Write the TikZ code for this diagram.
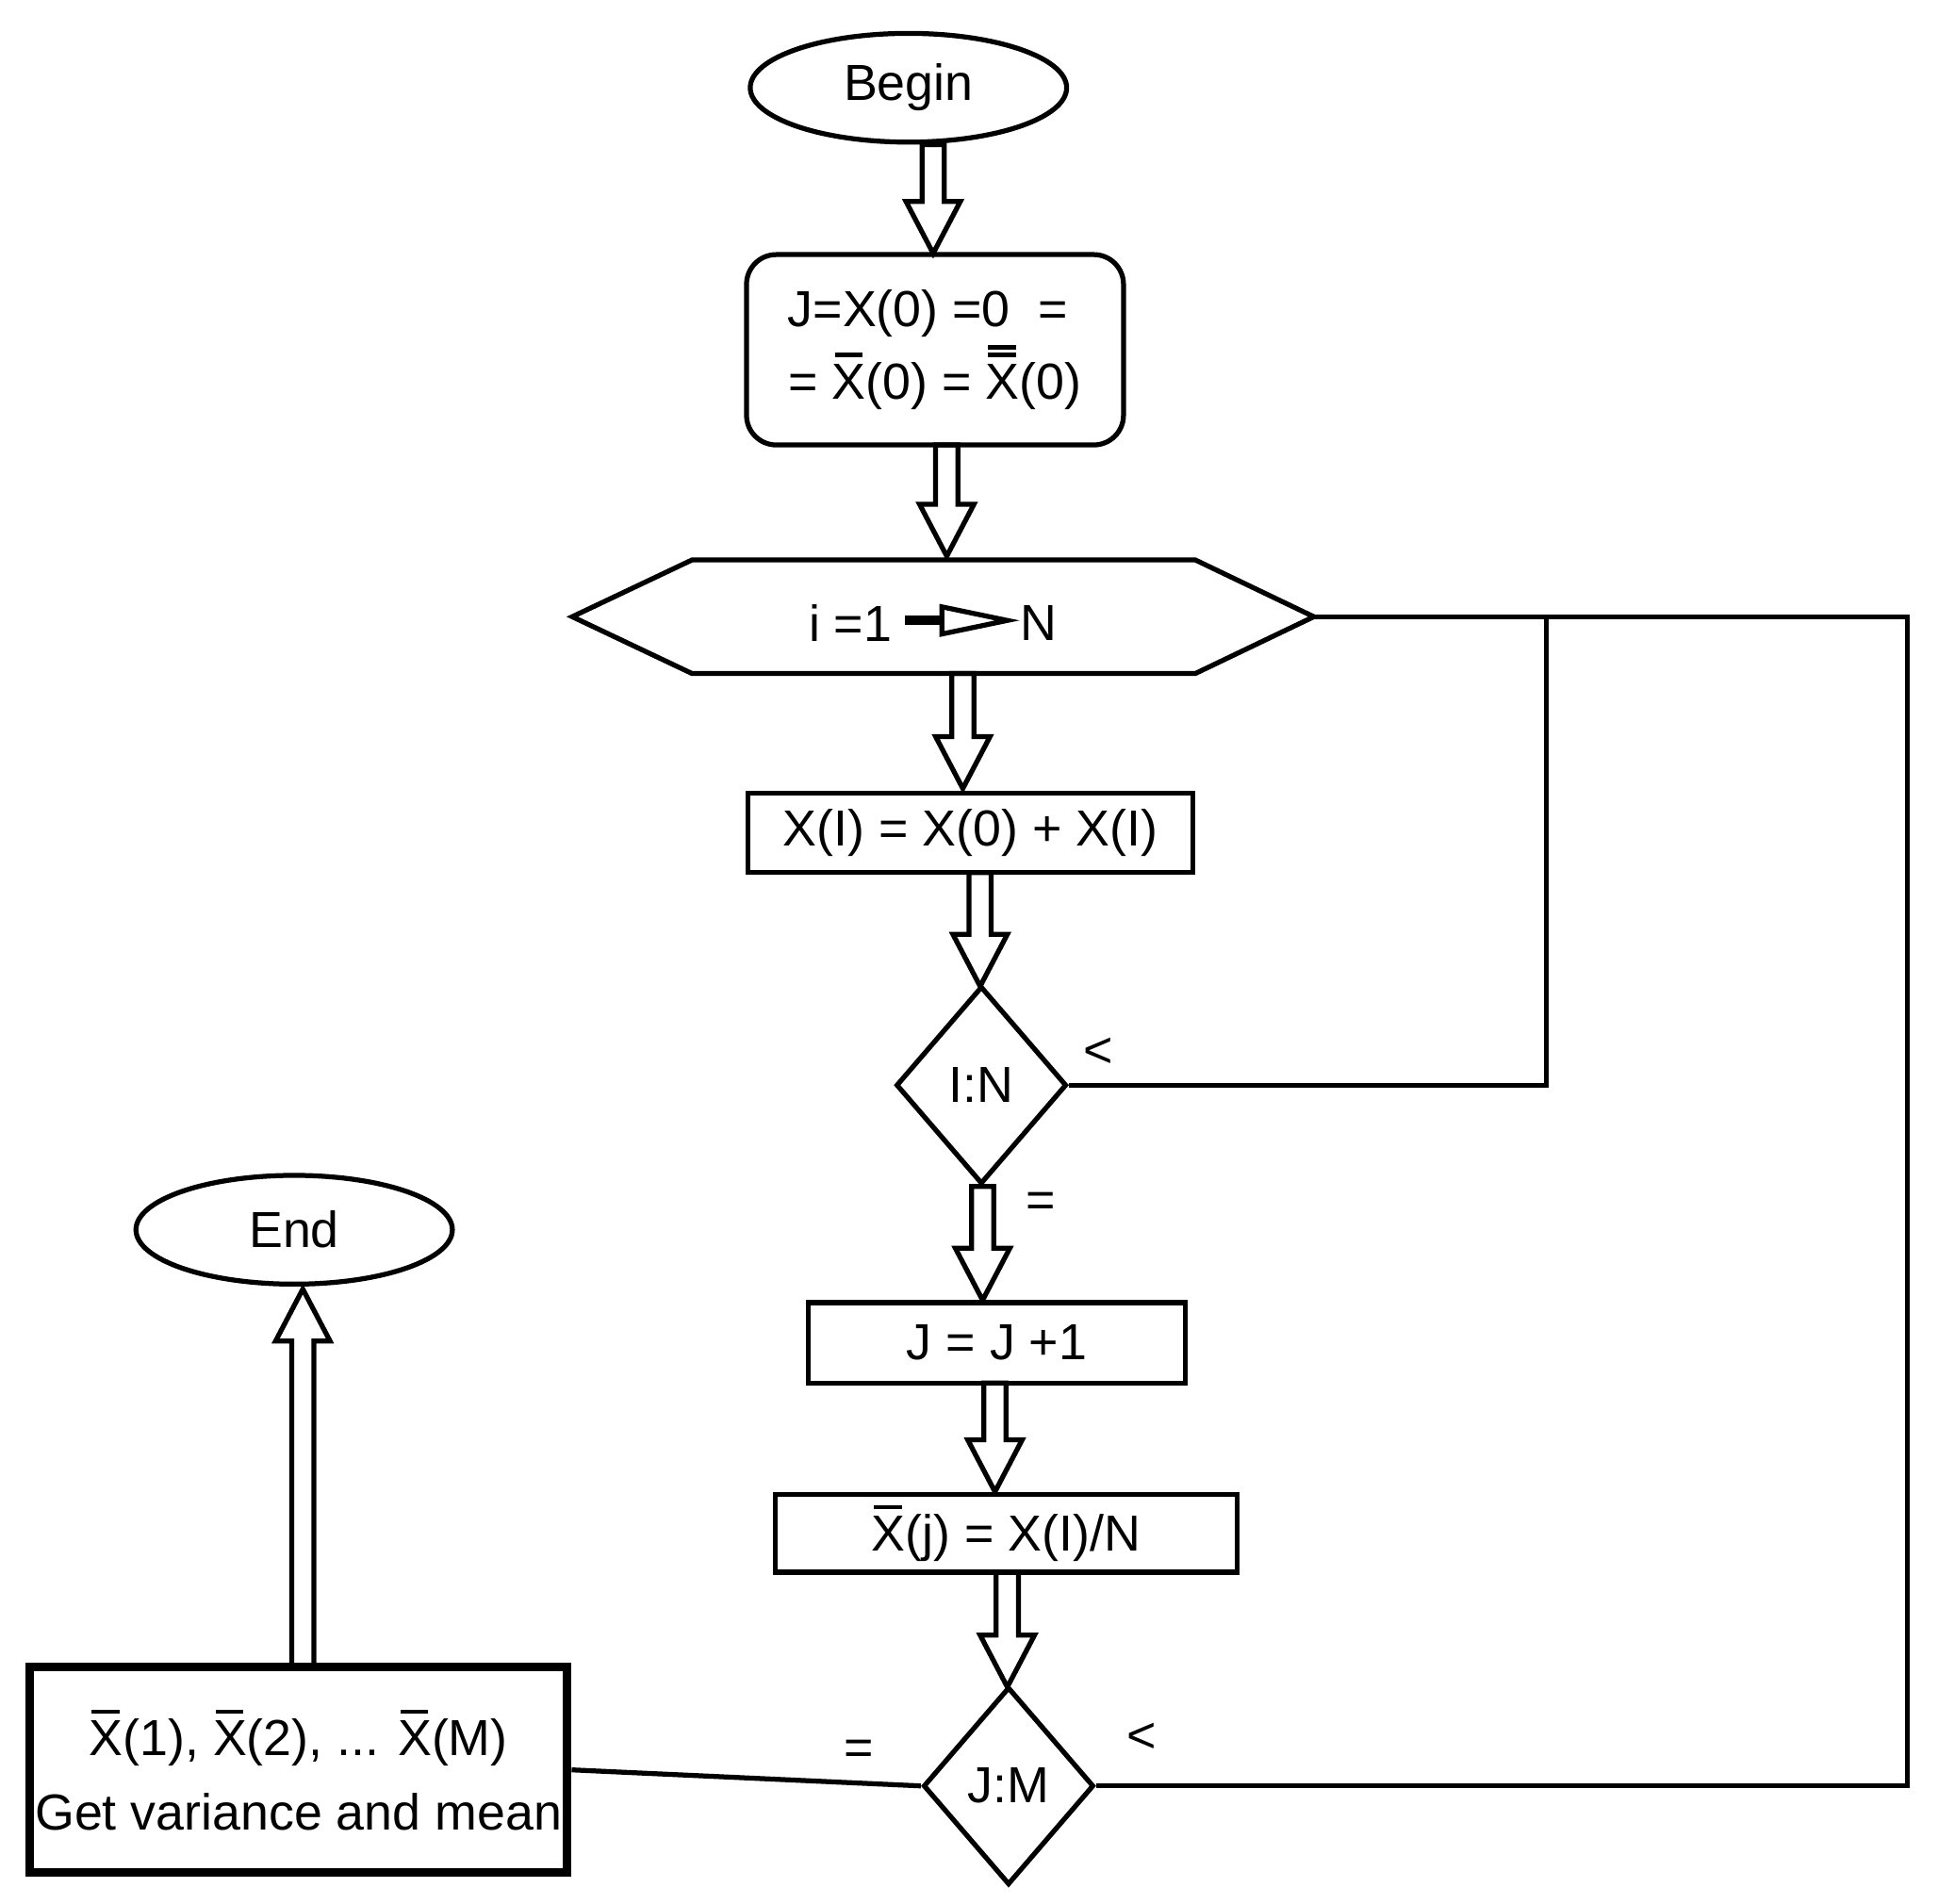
\documentclass[tikz,border=0pt]{standalone}
\usepackage{fontspec}
\setmainfont{Liberation Sans}
\usetikzlibrary{shapes.geometric}
\newcommand{\xb}{\leavevmode\rlap{\hspace{0.05em}\raisebox{0.82em}{\rule{0.55em}{0.09em}}}X}
\newcommand{\xbb}{\leavevmode\rlap{\hspace{0.05em}\raisebox{0.82em}{\rule{0.55em}{0.09em}}}\rlap{\hspace{0.05em}\raisebox{0.97em}{\rule{0.55em}{0.09em}}}X}
\newcommand{\blockdown}[3]{\draw[blk] (#1-9,#2)--(#1-9,#3-42)--(#1-22,#3-42)--(#1,#3)--(#1+22,#3-42)--(#1+9,#3-42)--(#1+9,#2)--cycle;}
\newcommand{\blockup}[3]{\draw[blk] (#1-9,#2)--(#1-9,#3+42)--(#1-22,#3+42)--(#1,#3)--(#1+22,#3+42)--(#1+9,#3+42)--(#1+9,#2)--cycle;}
\begin{document}
\begin{tikzpicture}[x=0.5pt,y=-0.5pt,
  every node/.style={font=\fontsize{20.5}{26}\selectfont},
  ln/.style={line width=2pt},
  blk/.style={line width=2pt,line join=miter},
  box/.style={draw,line width=2pt,rectangle,inner sep=0pt},
  lbl/.style={inner sep=0pt}]
\useasboundingbox (0,0) rectangle (1568,1540);
% Begin
\node[draw,ln,ellipse,minimum width=128pt,minimum height=44pt,inner sep=0pt] (begin) at (735,71) {Begin};
\blockdown{755}{117}{205}
\node[box,rounded corners=12pt,minimum width=152.5pt,minimum height=77pt,align=center] (init) at (756.5,283) {J=X(0) =0 \ =\ \ \\[3pt] = \xb(0) = \xbb(0)};
\blockdown{766}{360}{450}
% hexagon
\draw[ln] (463,499)--(560,453)--(967,453)--(1063,499)--(967,545)--(560,545)--cycle;
\coordinate (hexR) at (1063,499);
\node[lbl] (i1) at (688,504) {i =1};
\node[lbl] (nN) at (840,504) {N};
\draw[line width=4pt] (732,502)--(762,502);
\draw[ln] (762,491)--(815,502)--(762,513)--cycle;
\blockdown{779}{545}{638}
\node[box,minimum width=180pt,minimum height=32pt] (xi) at (785,674) {X(I) = X(0) + X(I)};
\blockdown{793}{706}{798}
\node[draw,ln,diamond,minimum width=69pt,minimum height=80pt,inner sep=0pt] (d1) at (794,878) {I:N};
\node[lbl] at (889,852) {\textless};
\coordinate (c1) at (1251,878);
\coordinate (c2) at (1251,499);
\draw[ln] (d1.east)--(c1)--(c2);
\blockdown{795}{960}{1052}
\node[lbl] at (842,975) {=};
\node[box,minimum width=152.5pt,minimum height=32.5pt] (jj) at (806.5,1086.5) {J = J +1};
\blockdown{805}{1119}{1207}
\node[box,minimum width=187pt,minimum height=31.5pt] (xj) at (814,1240.5) {\xb(j) = X(I)/N};
\blockdown{815}{1272}{1365}
\node[draw,ln,diamond,minimum width=69pt,minimum height=80pt,inner sep=0pt] (d2) at (816,1445) {J:M};
\node[lbl] at (924,1406) {\textless};
\coordinate (c3) at (1543,1445);
\coordinate (c4) at (1543,499);
\draw[ln] (d2.east)--(c3)--(c4)--(hexR);
\node[lbl] at (695,1418) {=};
\node[draw,line width=3.5pt,rectangle,minimum width=217.5pt,minimum height=83pt,align=center,inner sep=0pt] (res) at (241.5,1432) {\xb(1), \xb(2), ... \xb(M)\\[4pt] Get variance and mean};
\draw[ln] (d2.west)--(res.east);
\blockup{245}{1349}{1043}
\node[draw,ln,ellipse,minimum width=128pt,minimum height=44pt,inner sep=0pt] (end) at (238,995) {End};
\end{tikzpicture}
\end{document}
